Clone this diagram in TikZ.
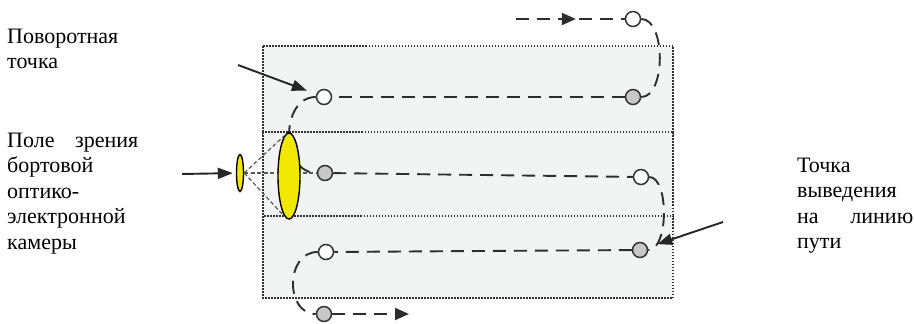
\documentclass[tikz,border=0pt]{standalone}
\usepackage{fontspec}
\setmainfont{Liberation Serif}
\usetikzlibrary{shapes.geometric,arrows.meta,decorations.markings}
\definecolor{stripfill}{RGB}{242,243,243}
\definecolor{stripline}{RGB}{50,50,50}
\definecolor{pathcol}{RGB}{45,45,45}
\definecolor{camyellow}{RGB}{240,232,0}
\definecolor{ptgray}{RGB}{200,200,200}
\pgfdeclarelayer{strips}
\pgfdeclarelayer{paths}
\pgfsetlayers{strips,paths,main}
\setlength{\parindent}{0pt}
\begin{document}
\begin{tikzpicture}[x=1pt,y=-1pt,
 strip/.style={fill=stripfill, draw=stripline, line width=1.8pt, dash pattern=on 1.5pt off 1.5pt},
 route/.style={draw=pathcol, line width=1.9pt, dash pattern=on 13pt off 8pt},
 turnpt/.style={circle, draw=black!80, line width=1.5pt, fill=white, minimum size=15pt, inner sep=0pt},
 entrypt/.style={turnpt, fill=ptgray},
 pointer/.style={draw=black!85, line width=1.9pt, -{Triangle[length=15pt,width=11pt]}},
 routetip/.style={-{Triangle[length=14pt,width=12pt]}},
 cam/.style={ellipse, draw=black, line width=1.4pt, fill=camyellow, inner sep=0pt},
 cone/.style={draw=black!65, line width=1.2pt, dash pattern=on 4pt off 2.5pt},
 txt/.style={anchor=north west, inner sep=0pt, align=flush left, font=\fontsize{22}{25.5}\selectfont}
]
\useasboundingbox (0,0) rectangle (914,324);

% strips
\begin{pgfonlayer}{strips}
\path[strip] (263,46) rectangle (673,135);
\path[strip] (263,132) rectangle (673,219);
\path[strip] (263,216) rectangle (673,298);
\end{pgfonlayer}

% route points
\node[turnpt]  (tw) at (633,19) {};
\node[entrypt] (g1) at (633,97) {};
\node[turnpt]  (tl) at (324,97) {};
\node[entrypt] (ml) at (325,173) {};
\node[turnpt]  (mw) at (641,177) {};
\node[entrypt] (bg) at (640,250) {};
\node[turnpt]  (bw) at (326,252) {};
\node[entrypt] (eg) at (324,314) {};
\coordinate (s1) at (516,19);
\coordinate (e2) at (409,314);

% small camera ellipse
\node[cam, minimum width=7pt, minimum height=37pt] (se) at (240,173) {};

\begin{pgfonlayer}{paths}
\draw[route, postaction={decorate}, decoration={markings, mark=at position 0.55 with {\arrow[pathcol]{Triangle[length=14pt,width=12pt]}}}] (s1) -- (tw);
\draw[route] (tw.east) .. controls (666,19) and (666,97) .. (g1.east);
\draw[route] (g1) -- (tl);
\draw[route] (tl.west) .. controls (280,97) and (280,173) .. (ml.west);
\draw[route] (ml) -- (mw);
\draw[route] (mw.east) .. controls (669,177) and (669,250) .. (bg.east);
\draw[route] (bg) -- (bw);
\draw[route] (bw.west) .. controls (285,252) and (285,314) .. (eg.west);
\draw[route, routetip] (eg) -- (e2);
\draw[cone] (se.east) -- (ml.center);
\draw[cone] (se.east) -- (284,136);
\draw[cone] (se.east) -- (284,216);
\end{pgfonlayer}

% big camera ellipse
\node[cam, minimum width=22pt, minimum height=86pt] (be) at (289,176) {};

% pointer arrows
\coordinate (p1) at (238,65);
\coordinate (p2) at (182,174);
\coordinate (p3) at (723,222);
\draw[pointer, shorten >=10pt] (p1) -- (tl);
\draw[pointer, shorten >=3pt] (p2) -- (se);
\draw[pointer, shorten >=10pt] (p3) -- (bg);

% texts
\node[txt, text width=125pt] (lab1) at (7,25) {\rule{0pt}{18pt}Поворотная\\точка};
\node[txt, text width=131pt] (lab2) at (7,129) {\rule{0pt}{18pt}Поле\hfill зрения\\бортовой\\оптико-\\электронной\\камеры};
\node[txt, text width=116pt] (lab3) at (797,154) {\rule{0pt}{18pt}Точка\\выведения\\на\hfill линию\\пути};
\end{tikzpicture}
\end{document}
